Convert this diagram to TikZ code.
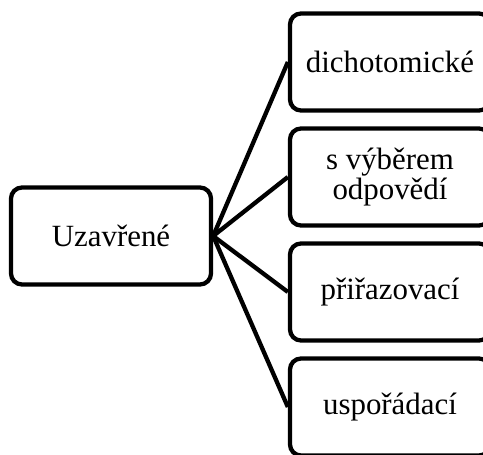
\documentclass[tikz,border=0pt]{standalone}
\usepackage{fontspec}
\setmainfont{Liberation Serif}

\begin{document}
\begin{tikzpicture}[x=1bp, y=-1bp, line width=4.3bp,
    box/.style={draw, rounded corners=11bp, minimum width=200bp, minimum height=97bp,
        inner sep=0pt, align=center, font=\fontsize{31}{31}\selectfont}]
        \clip (0,0) rectangle (483,455);

        % Nodes
        \node (closed) [box] at (111,236) {Uzavřené};
        \node (dich) [box] at (390,62) {dichotomické};
        \node (choice) [box] at (390,177) {s výběrem\\odpovědí};
        \node (match) [box] at (390,292) {přiřazovací};
        \node (order) [box] at (390,407) {uspořádací};

        % Edges
        \draw (closed.east) -- (dich.west);
        \draw (closed.east) -- (choice.west);
        \draw (closed.east) -- (match.west);
        \draw (closed.east) -- (order.west);
    \end{tikzpicture}
\end{document}
